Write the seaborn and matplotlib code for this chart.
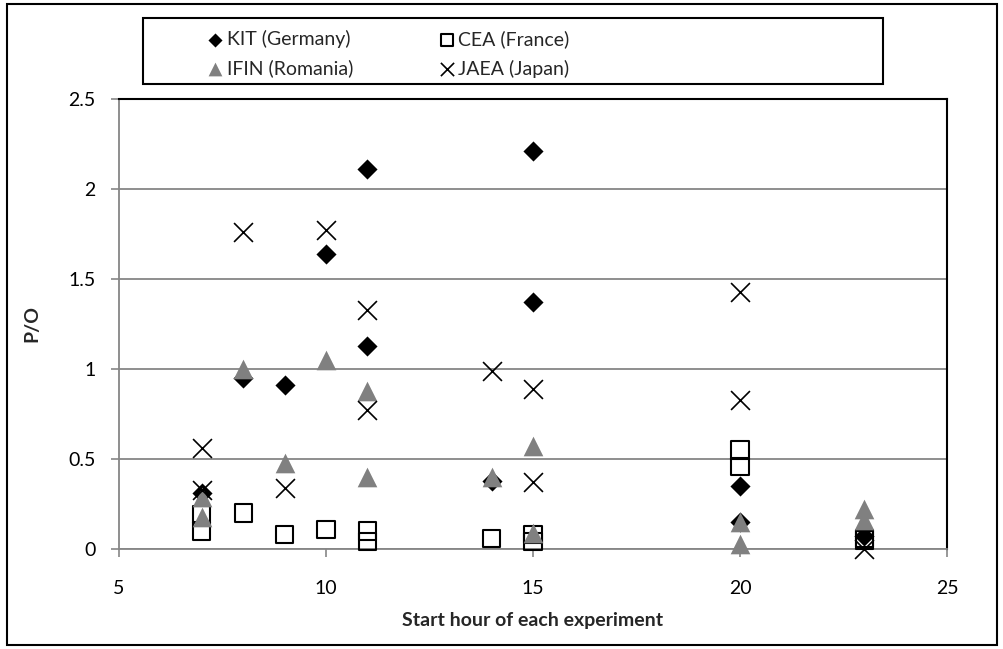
import numpy as np
import pandas as pd
import matplotlib.pyplot as plt
import seaborn as sns
from matplotlib.patches import Rectangle

# values
kit_x = [7, 8, 9, 10, 11, 11, 14, 15, 15, 20, 20, 23]
kit_y = [0.31, 0.95, 0.91, 1.64, 2.11, 1.13, 0.38, 2.21, 1.37, 0.35, 0.15, 0.07]

cea_x = [7, 7, 8, 9, 10, 11, 11, 14, 15, 15, 20, 20, 23, 23]
cea_y = [0.19, 0.10, 0.20, 0.08, 0.11, 0.10, 0.04, 0.06, 0.08, 0.04, 0.55, 0.46, 0.06, 0.05]

ifin_x = [7, 7, 8, 9, 10, 11, 11, 14, 15, 15, 20, 20, 23, 23]
ifin_y = [0.29, 0.18, 1.00, 0.48, 1.05, 0.88, 0.40, 0.40, 0.57, 0.09, 0.15, 0.03, 0.22, 0.16]

jaea_x = [7, 7, 8, 9, 10, 11, 11, 14, 15, 15, 20, 20, 23]
jaea_y = [0.56, 0.33, 1.76, 0.34, 1.77, 1.33, 0.77, 0.99, 0.89, 0.37, 1.43, 0.83, 0.00]

xticks = [5, 10, 15, 20, 25]
yticks = [0, 0.5, 1, 1.5, 2, 2.5]
ytick_labels = ['0', '0.5', '1', '1.5', '2', '2.5']

sns.set_style('white')
plt.rcParams['font.family'] = ['Lato', 'DejaVu Sans']

fig = plt.figure(figsize=(10.04, 6.49), dpi=100)
ax = fig.add_axes([119 / 1004, 100 / 649, 828 / 1004, 450 / 649])

grey = '#868686'

sns.scatterplot(x=kit_x, y=kit_y, ax=ax, marker='D', s=105, color='black',
                edgecolor='black', linewidth=0, label='KIT (Germany)',
                zorder=3, clip_on=False)
sns.scatterplot(x=cea_x, y=cea_y, ax=ax, marker='s', s=150, facecolor='none',
                edgecolor='black', linewidth=1.5, label='CEA (France)',
                zorder=4, clip_on=False)
sns.scatterplot(x=ifin_x, y=ifin_y, ax=ax, marker='^', s=200, color='#808080',
                edgecolor='#808080', linewidth=0, label='IFIN (Romania)',
                zorder=5, clip_on=False)
sns.scatterplot(x=jaea_x, y=jaea_y, ax=ax, marker='x', s=185, color='black',
                linewidth=1.2, label='JAEA (Japan)', zorder=6, clip_on=False)

ax.set_xlim(5, 25)
ax.set_ylim(0, 2.5)
ax.set_xticks(xticks)
ax.set_xticklabels([str(t) for t in xticks])
ax.set_yticks(yticks)
ax.set_yticklabels(ytick_labels)

ax.yaxis.grid(True, color=grey, linewidth=1.3)
ax.set_axisbelow(True)

for side in ['left', 'bottom']:
    ax.spines[side].set_color(grey)
    ax.spines[side].set_linewidth(1.3)
for side in ['top', 'right']:
    ax.spines[side].set_color('black')
    ax.spines[side].set_linewidth(1.5)

ax.tick_params(axis='both', bottom=True, left=True, direction='out', length=6,
               width=1.2, color=grey, labelsize=14, labelcolor='black')
ax.tick_params(axis='x', pad=16)
ax.tick_params(axis='y', pad=11)

ax.set_xlabel('Start hour of each experiment', fontsize=14, fontweight='bold', labelpad=11)
ax.set_ylabel('P/O', fontsize=14, fontweight='bold', labelpad=20)

handles, labels = ax.get_legend_handles_labels()
ax.get_legend().remove()
order = [0, 2, 1, 3]
fig.legend([handles[i] for i in order], [labels[i] for i in order], ncol=2,
           loc='upper left', bbox_to_anchor=(196 / 1004, 1 - 20 / 649),
           frameon=False, fontsize=14, handletextpad=0.1, columnspacing=4.3,
           labelspacing=0.6, markerscale=0.7, borderpad=0, handlelength=1.0)

fig.patches.append(Rectangle((143 / 1004, 1 - 84 / 649), 740 / 1004, 66 / 649,
                             transform=fig.transFigure, fill=False,
                             edgecolor='black', linewidth=1.5))
fig.patches.append(Rectangle((7 / 1004, 4 / 649), 990 / 1004, 641 / 649,
                             transform=fig.transFigure, fill=False,
                             edgecolor='black', linewidth=1.5))

fig.savefig('out.png', dpi=100)
